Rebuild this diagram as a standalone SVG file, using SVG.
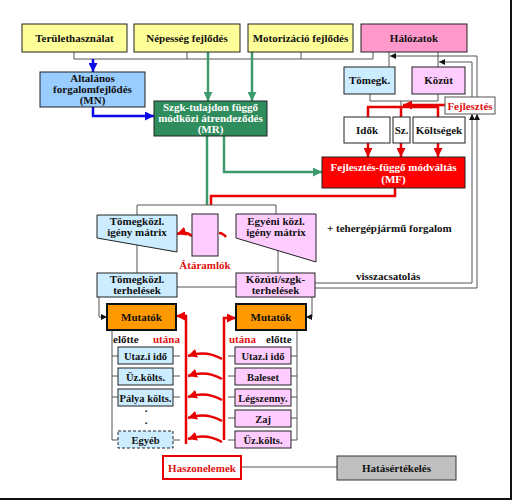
<svg xmlns="http://www.w3.org/2000/svg" width="513" height="502" viewBox="0 0 513 502">
<style>
.bx{stroke:#222;stroke-width:1}
.t{font-family:"Liberation Serif","Times New Roman",serif;font-weight:bold;font-size:11px;fill:#111;text-anchor:middle}
.s{font-size:10.5px}
.w{fill:#fff}
.r{fill:#e01010}
.st{text-anchor:start}
.ln{fill:none;stroke:#555;stroke-width:1}
.rd{fill:none;stroke:#e80000;stroke-width:2.5}
.gr{fill:none;stroke:#3d9a6d;stroke-width:2.5}
.bl{fill:none;stroke:#0a0ae6;stroke-width:2.5}
.yel{fill:#ffff99}
.lb{fill:#ccecff}
.lp{fill:#ffccff}
</style>
<defs>
<marker id="mk" viewBox="0 0 10 10" refX="10" refY="5" markerWidth="6" markerHeight="6" orient="auto" markerUnits="userSpaceOnUse"><path d="M0,0L10,5L0,10z" fill="#111"/></marker>
<marker id="mb" viewBox="0 0 10 10" refX="10" refY="5" markerWidth="9" markerHeight="9" orient="auto" markerUnits="userSpaceOnUse"><path d="M0,0L10,5L0,10z" fill="#0a0ae6"/></marker>
<marker id="mg" viewBox="0 0 10 10" refX="10" refY="5" markerWidth="9" markerHeight="9" orient="auto" markerUnits="userSpaceOnUse"><path d="M0,0L10,5L0,10z" fill="#3d9a6d"/></marker>
<marker id="mr" viewBox="0 0 10 10" refX="10" refY="5" markerWidth="9" markerHeight="9" orient="auto" markerUnits="userSpaceOnUse"><path d="M0,0L10,5L0,10z" fill="#e80000"/></marker>
</defs>
<rect width="513" height="502" fill="#fff"/>
<path d="M511,0V499H0" fill="none" stroke="#111" stroke-width="2"/>

<g id="connectors">
<path class="ln" d="M74,52V59H373V52M187,52V59M301,52V59"/>
<path class="bl" d="M93,59V72" marker-end="url(#mb)"/>
<path class="bl" d="M93,107V116H154" marker-end="url(#mb)"/>
<path class="gr" d="M208,52V101" marker-end="url(#mg)"/>
<path class="gr" d="M252,52V101" marker-end="url(#mg)"/>
<path class="gr" d="M207,136V205"/>
<path class="gr" d="M224,136V172H322" marker-end="url(#mg)"/>
<path class="rd" d="M395,188V196H211V205"/>
<path class="ln" d="M137,215V205H276V215"/>
<path class="ln" d="M137,245V273M278,251V273M177,287H236"/>
<path class="ln" d="M389,52V67M438,52V67"/>
<path class="ln" d="M315,283H472V114" marker-end="url(#mk)"/>
<path class="ln" d="M472,97V62H439" marker-end="url(#mk)"/>
<path class="ln" d="M315,288H477V114" marker-end="url(#mk)"/>
<path class="ln" d="M477,97V56H390" marker-end="url(#mk)"/>
<path class="ln" d="M370,94V101H438V94M401,101V107"/>
<path class="rd" d="M368,117V107H438V117M401,107V117"/>
<path class="rd" d="M445,105H403" marker-end="url(#mr)"/>
<path class="rd" d="M368,143V157" marker-end="url(#mr)"/>
<path class="rd" d="M401,143V157" marker-end="url(#mr)"/>
<path class="rd" d="M438,143V157" marker-end="url(#mr)"/>
<path class="rd" d="M192,236Q186,231 177,234" marker-end="url(#mr)"/>
<path class="rd" d="M226,237Q223,233 219,233"/>
<path class="ln" d="M99,297V317H107" marker-end="url(#mk)"/>
<path class="ln" d="M312,297V317H306" marker-end="url(#mk)"/>
<path class="rd" d="M186,444V316H176" marker-end="url(#mr)"/>
<path class="rd" d="M224,440V318H236" marker-end="url(#mr)"/>
<path class="ln" d="M112,330V440H118M112,356H118M112,376H118M112,397H118M173,356H180M173,376H180M173,397H180M173,440H180"/>
<path class="ln" d="M297,330V440H291M291,356H297M291,376H297M291,397H297M291,418H297M228,356H235M228,376H235M228,397H235M228,418H235M228,440H235"/>
<path class="rd" d="M222,359Q206,350 188,356" marker-end="url(#mr)"/>
<path class="rd" d="M222,379Q206,370 188,376" marker-end="url(#mr)"/>
<path class="rd" d="M222,400Q206,391 188,397" marker-end="url(#mr)"/>
<path class="rd" d="M222,421Q206,412 188,418" marker-end="url(#mr)"/>
<path class="rd" d="M222,442Q206,433 188,439" marker-end="url(#mr)"/>
<path class="ln" d="M241,467H337"/>
</g>

<g id="teruletHasznalat"><rect class="bx yel" x="22" y="24" width="105" height="28"/><text class="t" x="74.5" y="42">Területhasználat</text></g>
<g id="nepesseg"><rect class="bx yel" x="134" y="24" width="106" height="28"/><text class="t" x="187" y="42">Népesség fejlődés</text></g>
<g id="motorizacio"><rect class="bx yel" x="248" y="24" width="105" height="28"/><text class="t" x="300.5" y="42">Motorizáció fejlődés</text></g>
<g id="halozatok"><rect class="bx" fill="#ff99cc" x="361" y="24" width="106" height="28"/><text class="t" x="414" y="42">Hálózatok</text></g>

<g id="altalanos"><rect class="bx" fill="#99ccff" x="40" y="72" width="105" height="35"/><text class="t" x="92.5" y="82">Altalános</text><text class="t" x="92.5" y="93">forgalomfejlődés</text><text class="t" x="92.5" y="104">(MN)</text></g>
<g id="MR"><rect class="bx" fill="#2f8c5c" x="154" y="101" width="113" height="35"/><text class="t w" x="210.5" y="111">Szgk-tulajdon függő</text><text class="t w" x="210.5" y="122">módközi átrendeződés</text><text class="t w" x="210.5" y="133">(MR)</text></g>

<g id="tomegk"><rect class="bx lb" x="344" y="67" width="51" height="27"/><text class="t" x="369.5" y="84">Tömegk.</text></g>
<g id="kozut"><rect class="bx lp" x="412" y="67" width="53" height="27"/><text class="t" x="438.5" y="84">Közút</text></g>
<g id="fejlesztes"><rect x="445" y="97" width="50" height="17" fill="#fff" stroke="#555"/><text class="t r" x="470" y="109.5">Fejlesztés</text></g>
<g id="idok"><rect class="bx w" x="344" y="117" width="46" height="26"/><text class="t" x="367" y="134">Idők</text></g>
<g id="sz"><rect class="bx w" x="393" y="117" width="17" height="26"/><text class="t" x="401.5" y="134">Sz.</text></g>
<g id="koltsegek"><rect class="bx w" x="413" y="117" width="52" height="26"/><text class="t" x="439" y="134">Költségek</text></g>
<g id="MF"><rect class="bx" fill="#ff0000" x="322" y="157" width="143" height="31"/><text class="t w" x="393.5" y="171">Fejlesztés-függő módváltás</text><text class="t w" x="393.5" y="183">(MF)</text></g>

<g id="tomegkozlMatrix"><polygon class="bx lb" points="97,215 177,215 177,252 97,238"/><text class="t" x="137" y="225">Tömegközl.</text><text class="t" x="137" y="236">igény mátrix</text></g>
<g id="ataramlok"><rect class="bx lp" x="192" y="214" width="26" height="42"/><text class="t r" x="205" y="269">Átáramlók</text></g>
<g id="egyeniMatrix"><polygon class="bx lp" points="236,214 316,214 316,262 236,238"/><text class="t" x="276" y="225">Egyéni közl.</text><text class="t" x="276" y="236">igény mátrix</text></g>
<text class="t st" x="327" y="232">+ tehergépjármű forgalom</text>

<g id="tomegkozlTerheles"><rect class="bx lb" x="97" y="273" width="80" height="24"/><text class="t" x="137" y="283">Tömegközl.</text><text class="t" x="137" y="294">terhelések</text></g>
<g id="kozutiTerheles"><rect class="bx lp" x="236" y="273" width="79" height="24"/><text class="t" x="275.5" y="283">Közúti/szgk-</text><text class="t" x="275.5" y="294">terhelések</text></g>
<text class="t st" x="356" y="280">visszacsatolás</text>

<g id="mutatokBal"><rect fill="#ff9900" stroke="#111" stroke-width="2" x="107" y="304" width="69" height="26"/><text class="t" x="141.5" y="321">Mutatók</text></g>
<g id="mutatokJobb"><rect fill="#ff9900" stroke="#111" stroke-width="2" x="236" y="304" width="70" height="26"/><text class="t" x="271" y="321">Mutatók</text></g>
<text class="t st" x="113" y="343">előtte</text>
<text class="t st r" x="153" y="343">utána</text>
<text class="t st r" x="229" y="343">utána</text>
<text class="t st" x="266" y="343">előtte</text>

<g id="balOszlop">
<g id="b1"><rect class="bx lb" x="118" y="347" width="55" height="17"/><text class="t s" x="145.5" y="359.5">Utaz.i idő</text></g>
<g id="b2"><rect class="bx lb" x="118" y="368" width="55" height="17"/><text class="t s" x="145.5" y="380.5">Üz.költs.</text></g>
<g id="b3"><rect class="bx lb" x="118" y="389" width="55" height="17"/><text class="t s" x="145.5" y="401.5">Pálya költs.</text></g>
<text class="t" x="146" y="412">.</text>
<text class="t" x="146" y="424">.</text>
<g id="b4"><rect class="lb" stroke="#222" stroke-dasharray="3,2" x="118" y="431" width="55" height="17"/><text class="t s" x="145.5" y="443.5">Egyéb</text></g>
</g>

<g id="jobbOszlop">
<g id="j1"><rect class="bx lp" x="235" y="347" width="56" height="17"/><text class="t s" x="263" y="359.5">Utaz.i idő</text></g>
<g id="j2"><rect class="bx lp" x="235" y="368" width="56" height="17"/><text class="t s" x="263" y="380.5">Baleset</text></g>
<g id="j3"><rect class="bx lp" x="235" y="389" width="56" height="17"/><text class="t s" x="263" y="401.5">Légszenny.</text></g>
<g id="j4"><rect class="bx lp" x="235" y="410" width="56" height="17"/><text class="t s" x="263" y="422.5">Zaj</text></g>
<g id="j5"><rect class="bx lp" x="235" y="431" width="56" height="17"/><text class="t s" x="263" y="443.5">Üz.költs.</text></g>
</g>

<g id="haszonelemek"><rect fill="#fff" stroke="#e80000" stroke-width="2" x="163" y="456" width="78" height="23"/><text class="t r" x="202" y="471.5">Haszonelemek</text></g>
<g id="hatasertekeles"><rect fill="#c0c0c0" stroke="#333" x="337" y="456" width="119" height="24"/><text class="t" x="396.5" y="472">Hatásértékelés</text></g>
</svg>
